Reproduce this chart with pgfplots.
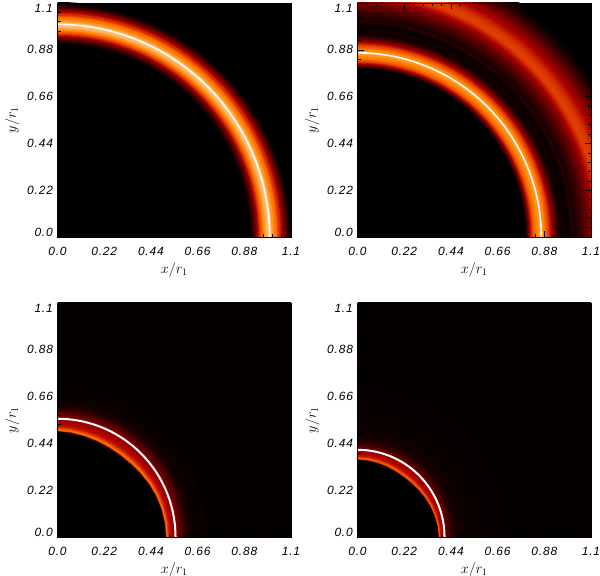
\documentclass[border=0pt]{standalone}
\usepackage{fontspec}
\setmainfont{Liberation Sans}
\newfontfamily\tickfont[LetterSpace=7,ItalicFont=Liberation Sans Italic]{Liberation Sans}
\usepackage{pgfplots}
\pgfplotsset{compat=1.18}
\def\arcpts#1{(0,#1)(3,#1)(6,#1)(9,#1)(12,#1)(15,#1)(18,#1)(21,#1)(24,#1)(27,#1)(30,#1)(33,#1)(36,#1)(39,#1)(42,#1)(45,#1)(48,#1)(51,#1)(54,#1)(57,#1)(60,#1)(63,#1)(66,#1)(69,#1)(72,#1)(75,#1)(78,#1)(81,#1)(84,#1)(87,#1)(90,#1)}
\newcommand\mysetcol[1]{%
  \pgfmathsetmacro\cR{min(1,#1/0.69)}%
  \pgfmathsetmacro\cG{max(0,min(1,(#1-0.47)/0.53))}%
  \pgfmathsetmacro\cB{max(0,min(1,(#1-0.75)/0.25))}}
% circular ring sample: radius, brightness
\newcommand\band[2]{\mysetcol{#2}%
  \edef\temp{\noexpand\addplot[forget plot,draw=none,fill={rgb,1:red,\cR;green,\cG;blue,\cB},data cs=polar] coordinates {(0,0)\arcpts{#1}(90,0)};}%
  \temp}
\newcommand\bands[1]{\pgfplotsforeachungrouped \p/\q in {#1}{\edef\tmpb{\noexpand\band{\p}{\q}}\tmpb}}
% sample inside the white arc: depth read per angle
\def\depthA{0/.045,7.5/.047,15/.05,22.5/.054,30/.059,37.5/.065,45/.07,52.5/.072,60/.072,67.5/.07,75/.067,82.5/.063,90/.06}
\def\depthB{0/.028,7.5/.03,15/.034,22.5/.038,30/.043,37.5/.048,45/.052,52.5/.054,60/.054,67.5/.052,75/.05,82.5/.048,90/.047}
\newcommand\sband[4]{\mysetcol{#4}%
  \gdef\mycoords{}%
  \foreach \a/\d in #2 {\pgfmathsetmacro\rr{#1-#3*\d}\xdef\mycoords{\mycoords(\a,\rr)}}%
  \edef\temp{\noexpand\addplot[forget plot,draw=none,fill={rgb,1:red,\cR;green,\cG;blue,\cB},data cs=polar] coordinates {(0,0)\mycoords(90,0)};}%
  \temp}
\newcommand\sbands[3]{\pgfplotsforeachungrouped \p/\q in {#3}{\edef\tmpb{\noexpand\sband{#1}{\noexpand#2}{\p}{\q}}\tmpb}}
\newcommand\whitearc[2]{\edef\temp{\noexpand\addplot[forget plot,white,line width=#2,data cs=polar] coordinates {\arcpts{#1}};}\temp}
\newcommand\myfont{\tickfont\fontsize{12}{12.5}\selectfont\itshape}
\pgfplotsset{panel/.style={
  scale only axis,width=233.5bp,height=234bp,
  xmin=0,xmax=1.1,ymin=0,ymax=1.1,
  anchor=south west,
  axis on top,
  axis background/.style={fill=black},
  tick align=inside,
  major tick length=6bp,minor tick length=3bp,
  minor tick num=4,
  tick style={black,line width=0.5bp},
  xtick={0,0.22,0.44,0.66,0.88,1.1},
  ytick={0,0.22,0.44,0.66,0.88,1.1},
  xticklabels={0.0,0.22,0.44,0.66,0.88,1.1},
  yticklabels={\mbox{},0.22,0.44,0.66,0.88,\mbox{}},
  ticklabel style={font=\myfont},
  xticklabel style={yshift=-7bp},
  yticklabel style={xshift=-1bp},
  xlabel={\fontsize{14.5}{15}\selectfont$x/r_1$},
  ylabel={\fontsize{14.5}{15}\selectfont$y/r_1$},
  xlabel style={yshift=0bp},
  ylabel style={yshift=1bp},
  after end axis/.code={
    \node[anchor=east,xshift=-4.5bp,yshift=5bp,font=\myfont,inner sep=0pt] at (rel axis cs:0,0) {0.0};
    \node[anchor=east,xshift=-4.5bp,yshift=-5bp,font=\myfont,inner sep=0pt] at (rel axis cs:0,1) {1.1};
  },
}}
\begin{document}
\begin{tikzpicture}
\useasboundingbox (0,0) rectangle (600bp,576bp);
\begin{axis}[panel,at={(57.5bp,339bp)}]
\bands{1.105/0,1.10/0.02,1.095/0.05,1.09/0.09,1.085/0.14,1.08/0.20,1.075/0.27,1.07/0.33,1.065/0.40,1.06/0.46,1.055/0.52,1.05/0.57,1.04/0.64,1.035/0.68,1.03/0.72,1.02/0.78,1.01/0.84,1.0/0.87,0.99/0.84,0.98/0.78,0.97/0.71,0.965/0.67,0.96/0.63,0.955/0.58,0.95/0.52,0.945/0.44,0.94/0.36,0.935/0.29,0.93/0.23,0.925/0.17,0.92/0.12,0.915/0.07,0.91/0.03,0.905/0}
\whitearc{1.0}{1.6bp}
\end{axis}
\begin{axis}[panel,at={(357.5bp,339bp)}]
\bands{1.34/0,1.33/0.02,1.32/0.04,1.31/0.07,1.30/0.10,1.29/0.14,1.28/0.18,1.27/0.22,1.26/0.27,1.25/0.31,1.24/0.36,1.23/0.40,1.22/0.44,1.21/0.48,1.20/0.52,1.19/0.55,1.18/0.58,1.17/0.59,1.16/0.60,1.15/0.60,1.14/0.56,1.13/0.51,1.12/0.45,1.11/0.39,1.10/0.33,1.09/0.28,1.08/0.24,1.07/0.20,1.06/0.17,1.05/0.13,1.04/0.10,1.03/0.06,1.02/0.10,1.01/0.08,1.00/0.02,0.98/0.05,0.97/0.05,0.96/0.03,0.955/0.05,0.95/0.08,0.945/0.12,0.94/0.17,0.935/0.23,0.93/0.29,0.925/0.35,0.92/0.41,0.915/0.47,0.91/0.53,0.905/0.58,0.90/0.62,0.895/0.65,0.89/0.68,0.885/0.72,0.88/0.76,0.87/0.80,0.86/0.78,0.85/0.74,0.84/0.70,0.835/0.67,0.83/0.64,0.825/0.59,0.82/0.52,0.815/0.43,0.81/0.33,0.805/0.22,0.80/0.12,0.795/0.03,0.79/0}
\whitearc{0.866}{1.6bp}
\end{axis}
\begin{axis}[panel,at={(57.5bp,39bp)}]
\bands{1.56/0.012,0.70/0.025,0.65/0.04,0.63/0.06,0.615/0.09,0.605/0.13,0.595/0.18,0.585/0.24,0.575/0.30,0.565/0.36}
\sbands{0.556}{\depthA}{0/0.42,0.2/0.44,0.4/0.48,0.55/0.52,0.65/0.56,0.72/0.62,0.8/0.68,0.88/0.70,0.93/0.62,0.97/0.4,1.0/0.15,1.04/0}
\whitearc{0.556}{2bp}
\end{axis}
\begin{axis}[panel,at={(357.5bp,39bp)}]
\bands{1.56/0.012,0.70/0.018,0.60/0.025,0.52/0.035,0.49/0.05,0.47/0.07,0.455/0.10,0.445/0.14,0.435/0.20,0.425/0.25,0.415/0.30}
\sbands{0.41}{\depthB}{0/0.44,0.3/0.46,0.5/0.5,0.65/0.56,0.75/0.64,0.85/0.68,0.92/0.62,0.97/0.4,1.0/0.15,1.05/0}
\whitearc{0.41}{2bp}
\end{axis}
\end{tikzpicture}
\end{document}
